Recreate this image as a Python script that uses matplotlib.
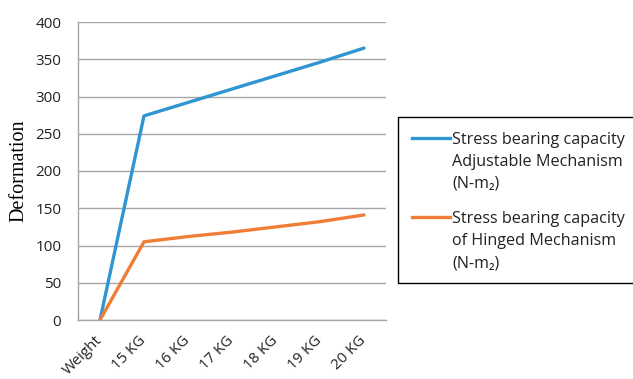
import matplotlib
matplotlib.use("Agg")
import matplotlib.pyplot as plt
from matplotlib.lines import Line2D

categories = ["Weight", "15 KG", "16 KG", "17 KG", "18 KG", "19 KG", "20 KG"]
adjustable = [0, 274, 292, 310, 328, 346, 365]
hinged = [0, 105, 112, 118, 125, 132, 141]
series_labels = [
    "Stress bearing capacity\nAdjustable Mechanism\n(N-m\u2082)",
    "Stress bearing capacity\nof Hinged Mechanism\n(N-m\u2082)",
]
series_colors = ["#2F96D2", "#F07D35"]
yticks = [0, 50, 100, 150, 200, 250, 300, 350, 400]

sans = ["Open Sans", "DejaVu Sans"]
W, H = 633, 379

fig = plt.figure(figsize=(W / 100, H / 100), dpi=100)
ax = fig.add_axes([78 / W, 1 - 320 / H, 308 / W, 298 / H])

x = list(range(len(categories)))
for vals, col in zip([adjustable, hinged], series_colors):
    ax.plot(x, vals, color=col, lw=2.4, solid_capstyle="round")

ax.set_xlim(-0.5, 6.5)
ax.set_ylim(0, 400)
ax.set_yticks(yticks)
ax.set_yticklabels([str(v) for v in yticks], family=sans, fontsize=11, color="#222222")
ax.set_xticks(x)
ax.set_xticklabels(categories, family=sans, fontsize=10.8, rotation=45,
                   ha="right", va="center", rotation_mode="anchor", color="#222222")
ax.tick_params(axis="y", length=0, pad=12)
ax.tick_params(axis="x", length=0, pad=13)
ax.grid(axis="y", color="#A6A6A6", lw=1)
ax.set_axisbelow(True)
for s in ["top", "right"]:
    ax.spines[s].set_visible(False)
for s in ["left", "bottom"]:
    ax.spines[s].set_color("#A6A6A6")
    ax.spines[s].set_linewidth(1)

ax.set_ylabel("Deformation", family="Liberation Serif", fontsize=14.5, labelpad=5)

# Legend frame: open on the right, running off the figure edge
bx0, btop, bbot = 398 / W, 1 - 117 / H, 1 - 283 / H
fig.add_artist(Line2D([1.01, bx0, bx0, 1.01], [btop, btop, bbot, bbot],
                      transform=fig.transFigure, color="black", lw=1))
entry_tops = [138, 217]
for lab, col, yt in zip(series_labels, series_colors, entry_tops):
    fig.add_artist(Line2D([412 / W, 450 / W], [1 - yt / H, 1 - yt / H],
                          transform=fig.transFigure, color=col, lw=2.4))
    fig.text(452 / W, 1 - (yt - 6) / H, lab, family=sans, fontsize=11.6,
             color="#222222", va="top", ha="left", linespacing=1.5)

fig.savefig("out.png", dpi=100)
